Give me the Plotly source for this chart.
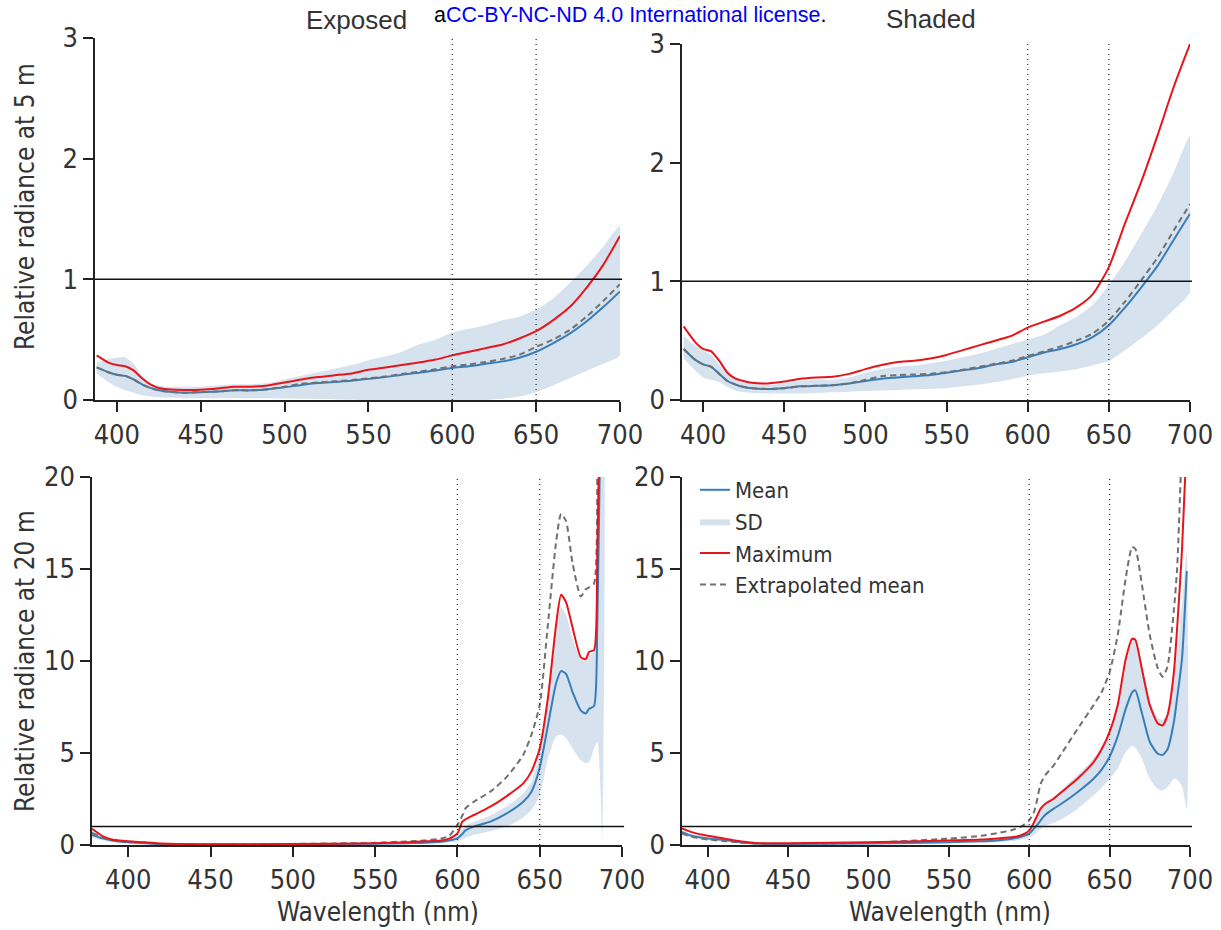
import plotly.graph_objects as go

# ---------------- data ----------------
# 5 m depth (top row)
wl_5m = [388, 395, 400, 405, 410, 415, 420, 425, 430, 440, 450, 460, 470, 480, 490,
         500, 510, 520, 530, 540, 550, 560, 570, 580, 590, 600, 610, 620, 630, 640,
         650, 660, 670, 680, 690, 700]

exposed_5m_mean = [0.27, 0.23, 0.21, 0.20, 0.17, 0.13, 0.10, 0.08, 0.07, 0.06, 0.065, 0.07, 0.08, 0.08, 0.09,
                   0.105, 0.125, 0.14, 0.15, 0.16, 0.175, 0.19, 0.21, 0.225, 0.245, 0.265, 0.28, 0.30, 0.32, 0.35,
                   0.40, 0.47, 0.55, 0.65, 0.77, 0.90]
exposed_5m_ext = [0.27, 0.23, 0.21, 0.20, 0.17, 0.13, 0.10, 0.08, 0.07, 0.06, 0.065, 0.07, 0.08, 0.08, 0.09,
                  0.11, 0.135, 0.145, 0.155, 0.165, 0.18, 0.195, 0.215, 0.235, 0.255, 0.28, 0.295, 0.315, 0.34, 0.375,
                  0.44, 0.50, 0.58, 0.69, 0.82, 0.96]
exposed_5m_max = [0.37, 0.31, 0.29, 0.28, 0.245, 0.18, 0.13, 0.10, 0.09, 0.083, 0.085, 0.095, 0.11, 0.11, 0.12,
                  0.145, 0.17, 0.19, 0.205, 0.22, 0.25, 0.27, 0.29, 0.31, 0.335, 0.37, 0.40, 0.43, 0.46, 0.51,
                  0.57, 0.66, 0.77, 0.93, 1.12, 1.36]
exposed_5m_sd_hi = [0.31, 0.34, 0.35, 0.355, 0.30, 0.20, 0.14, 0.12, 0.11, 0.11, 0.11, 0.12, 0.13, 0.13, 0.14,
                    0.17, 0.20, 0.23, 0.26, 0.29, 0.33, 0.36, 0.40, 0.46, 0.50, 0.56, 0.59, 0.62, 0.66, 0.69,
                    0.75, 0.84, 0.97, 1.11, 1.27, 1.44]
exposed_5m_sd_lo = [0.22, 0.15, 0.11, 0.08, 0.06, 0.04, 0.03, 0.02, 0.02, 0.015, 0.015, 0.015, 0.015, 0.015, 0.015,
                    0.012, 0.01, 0.008, 0.005, 0.003, 0.0, 0.0, 0.0, 0.0, 0.0, 0.0, 0.0, 0.0, 0.01, 0.03,
                    0.065, 0.12, 0.18, 0.24, 0.30, 0.37]

shaded_5m_mean = [0.43, 0.34, 0.30, 0.28, 0.22, 0.16, 0.13, 0.11, 0.10, 0.093, 0.10, 0.115, 0.12, 0.125, 0.14,
                  0.16, 0.18, 0.19, 0.20, 0.21, 0.23, 0.25, 0.27, 0.30, 0.32, 0.36, 0.40, 0.43, 0.47, 0.53,
                  0.63, 0.78, 0.95, 1.13, 1.35, 1.57]
shaded_5m_ext = [0.43, 0.34, 0.30, 0.28, 0.22, 0.16, 0.13, 0.11, 0.10, 0.093, 0.10, 0.115, 0.12, 0.125, 0.14,
                 0.17, 0.20, 0.21, 0.215, 0.22, 0.235, 0.255, 0.28, 0.305, 0.33, 0.37, 0.41, 0.45, 0.50, 0.56,
                 0.67, 0.83, 1.01, 1.20, 1.43, 1.65]
shaded_5m_max = [0.62, 0.49, 0.43, 0.41, 0.33, 0.23, 0.18, 0.16, 0.145, 0.14, 0.155, 0.18, 0.19, 0.195, 0.22,
                 0.26, 0.295, 0.32, 0.33, 0.35, 0.38, 0.42, 0.46, 0.50, 0.54, 0.61, 0.66, 0.71, 0.78, 0.89,
                 1.12, 1.49, 1.84, 2.23, 2.64, 3.0]
shaded_5m_sd_hi = [0.54, 0.46, 0.42, 0.38, 0.30, 0.23, 0.18, 0.155, 0.14, 0.13, 0.14, 0.16, 0.17, 0.17, 0.19,
                   0.23, 0.26, 0.28, 0.29, 0.31, 0.33, 0.36, 0.39, 0.43, 0.47, 0.51, 0.55, 0.63, 0.70, 0.80,
                   0.97, 1.17, 1.40, 1.64, 1.92, 2.22]
shaded_5m_sd_lo = [0.35, 0.25, 0.19, 0.17, 0.15, 0.11, 0.08, 0.065, 0.06, 0.055, 0.055, 0.055, 0.06, 0.065, 0.07,
                   0.075, 0.08, 0.085, 0.09, 0.095, 0.10, 0.115, 0.13, 0.15, 0.175, 0.205, 0.225, 0.24, 0.26, 0.29,
                   0.33, 0.42, 0.52, 0.63, 0.76, 0.91]

# 20 m depth, exposed (bottom left)
wl_20m_exposed = [378, 385, 390, 400, 410, 420, 430, 450, 500, 550, 570, 580, 590, 595, 600, 603, 605, 610,
                  620, 630, 640, 645, 650, 655, 660, 663, 666, 670, 675, 678, 680, 683, 685, 687, 688]
exposed_20m_mean = [0.55, 0.35, 0.25, 0.15, 0.10, 0.05, 0.04, 0.03, 0.04, 0.07, 0.10, 0.12, 0.18, 0.25, 0.36, 0.60, 0.80, 1.0,
                    1.27, 1.72, 2.35, 2.9, 4.2, 6.5, 8.8, 9.45, 9.3, 8.3, 7.3, 7.15, 7.4, 7.55, 12.0, 24.0, 30.0]
exposed_20m_max = [0.88, 0.45, 0.30, 0.20, 0.15, 0.08, 0.05, 0.04, 0.05, 0.10, 0.15, 0.20, 0.25, 0.35, 0.63, 1.27, 1.40, 1.63,
                   2.08, 2.66, 3.35, 4.0, 5.25, 8.0, 12.0, 13.6, 13.2, 11.8, 10.2, 10.1, 10.5, 10.6, 16.0, 26.0, 30.0]
exposed_20m_ext = [0.65, 0.40, 0.28, 0.18, 0.12, 0.06, 0.05, 0.04, 0.06, 0.12, 0.20, 0.25, 0.35, 0.50, 1.09, 1.6, 2.0, 2.35,
                   2.9, 3.7, 4.9, 6.0, 7.6, 12.0, 16.5, 18.0, 17.6, 15.3, 13.5, 13.9, 14.0, 14.2, 26.0, 30.0, 32.0]
exposed_20m_sd_hi = [0.70, 0.40, 0.30, 0.20, 0.12, 0.06, 0.05, 0.04, 0.05, 0.09, 0.13, 0.16, 0.22, 0.30, 0.50, 0.90, 1.05, 1.25,
                     1.6, 2.1, 2.8, 3.45, 5.1, 8.0, 11.8, 12.9, 12.5, 11.2, 10.1, 10.0, 10.3, 10.5, 14.0, 25.0, 25.0]
exposed_20m_sd_lo = [0.40, 0.25, 0.20, 0.10, 0.07, 0.03, 0.02, 0.02, 0.02, 0.05, 0.06, 0.08, 0.12, 0.15, 0.20, 0.30, 0.40, 0.55,
                     0.75, 1.0, 1.5, 1.9, 2.7, 4.7, 5.9, 6.0, 5.8, 5.25, 4.6, 4.45, 4.5, 5.25, 5.6, 2.9, 0.2]

# 20 m depth, shaded (bottom right)
wl_20m_shaded = [384, 390, 400, 410, 420, 430, 450, 500, 550, 570, 580, 590, 595, 600, 603, 605, 607, 610, 615,
                 620, 630, 640, 645, 650, 655, 660, 664, 666, 670, 675, 680, 683, 686, 690, 692, 695, 698]
shaded_20m_mean = [0.70, 0.50, 0.35, 0.28, 0.15, 0.08, 0.06, 0.08, 0.15, 0.20, 0.25, 0.35, 0.45, 0.62, 0.90, 1.10, 1.33, 1.64, 1.96,
                   2.24, 2.87, 3.6, 4.1, 4.8, 5.9, 7.4, 8.3, 8.4, 7.2, 5.6, 4.96, 4.9, 5.2, 6.7, 8.0, 10.1, 14.9]
shaded_20m_max = [0.90, 0.70, 0.50, 0.36, 0.20, 0.11, 0.09, 0.15, 0.25, 0.30, 0.36, 0.43, 0.53, 0.78, 1.24, 1.60, 1.96, 2.24, 2.5,
                  2.87, 3.6, 4.5, 5.2, 6.15, 7.6, 10.1, 11.2, 11.15, 9.6, 7.6, 6.6, 6.5, 7.05, 9.4, 11.8, 16.0, 22.0]
shaded_20m_ext = [0.63, 0.45, 0.30, 0.22, 0.13, 0.08, 0.07, 0.12, 0.35, 0.50, 0.64, 0.83, 1.0, 1.34, 1.8, 2.5, 3.3, 3.8, 4.3,
                  4.96, 6.3, 7.6, 8.3, 9.4, 11.4, 14.5, 16.2, 16.1, 14.2, 11.4, 9.6, 9.15, 9.7, 12.8, 15.05, 22.0, 30.0]
shaded_20m_sd_hi = [0.80, 0.60, 0.42, 0.32, 0.18, 0.10, 0.08, 0.12, 0.22, 0.28, 0.33, 0.45, 0.58, 0.80, 1.3, 1.6, 1.95, 2.3, 2.6,
                    3.0, 3.8, 4.7, 5.3, 6.1, 7.5, 9.7, 11.3, 11.3, 9.8, 7.8, 6.9, 6.8, 7.2, 9.0, 10.5, 13.0, 16.0]
shaded_20m_sd_lo = [0.55, 0.40, 0.25, 0.20, 0.10, 0.05, 0.04, 0.05, 0.10, 0.13, 0.16, 0.22, 0.30, 0.42, 0.55, 0.70, 0.85, 1.05, 1.2,
                    1.4, 1.96, 2.7, 3.1, 3.6, 4.15, 5.05, 5.4, 5.3, 4.7, 3.6, 3.05, 2.96, 3.15, 3.6, 3.55, 3.2, 1.96]

panel_titles = ["Exposed", "Shaded"]
row_titles = ["Relative radiance at 5 m", "Relative radiance at 20 m"]
x_title = "Wavelength (nm)"
series_names = ["Mean", "SD", "Maximum", "Extrapolated mean"]
x_ticks = [400, 450, 500, 550, 600, 650, 700]
y_ticks_5m = [0, 1, 2, 3]
y_ticks_20m = [0, 5, 10, 15, 20]
ref_wavelengths = [600, 650]
ref_level = 1

# ---------------- style ----------------
FONT = "DejaVu Sans Condensed, Liberation Sans Narrow, sans-serif"
ARIAL = "Liberation Sans, Arial, sans-serif"
TXT = "#333333"
C_MEAN = "rgb(55,125,186)"
C_MAX = "rgb(232,20,28)"
C_EXT = "rgb(112,112,112)"
C_SD = "rgb(214,227,239)"

W, H = 1221, 930

def px_x(a, b):
    return [a / W, b / W]
def px_y(top, bottom):
    return [1 - bottom / H, 1 - top / H]

panels = [
    ("", wl_5m, exposed_5m_mean, exposed_5m_ext, exposed_5m_max, exposed_5m_sd_hi, exposed_5m_sd_lo,
     px_x(95, 620), px_y(38, 400), [387, 700], [0, 3], y_ticks_5m),
    ("2", wl_5m, shaded_5m_mean, shaded_5m_ext, shaded_5m_max, shaded_5m_sd_hi, shaded_5m_sd_lo,
     px_x(682, 1190), px_y(44, 400), [387, 700], [0, 3], y_ticks_5m),
    ("3", wl_20m_exposed, exposed_20m_mean, exposed_20m_ext, exposed_20m_max, exposed_20m_sd_hi, exposed_20m_sd_lo,
     px_x(92, 622), px_y(477, 845), [378, 700], [0, 20], y_ticks_20m),
    ("4", wl_20m_shaded, shaded_20m_mean, shaded_20m_ext, shaded_20m_max, shaded_20m_sd_hi, shaded_20m_sd_lo,
     px_x(682, 1190), px_y(477, 845), [384, 700], [0, 20], y_ticks_20m),
]

fig = go.Figure()
layout = {}
shapes = []

for i, (sfx, wl, mean, ext, mx, hi, lo, xd, yd, xr, yr, yt) in enumerate(panels):
    xa, ya = "x" + sfx, "y" + sfx
    first = (i == 0)
    fig.add_trace(go.Scatter(
        x=list(wl) + list(wl)[::-1], y=list(hi) + list(lo)[::-1],
        fill="toself", fillcolor=C_SD, line=dict(width=0, shape="spline", smoothing=0.6),
        mode="lines", name=series_names[1], legendrank=2, showlegend=first,
        xaxis=xa, yaxis=ya, hoverinfo="skip"))
    fig.add_trace(go.Scatter(
        x=wl, y=mean, mode="lines", name=series_names[0], legendrank=1, showlegend=first,
        line=dict(color=C_MEAN, width=2, shape="spline", smoothing=0.6), xaxis=xa, yaxis=ya))
    fig.add_trace(go.Scatter(
        x=wl, y=ext, mode="lines", name=series_names[3], legendrank=4, showlegend=first,
        line=dict(color=C_EXT, width=2, dash="6px,4px", shape="spline", smoothing=0.6), xaxis=xa, yaxis=ya))
    fig.add_trace(go.Scatter(
        x=wl, y=mx, mode="lines", name=series_names[2], legendrank=3, showlegend=first,
        line=dict(color=C_MAX, width=2, shape="spline", smoothing=0.6), xaxis=xa, yaxis=ya))

    axis_common = dict(showline=True, linecolor="#222222", linewidth=1.5, ticks="outside",
                       ticklen=10, tickwidth=1.5, tickcolor="#222222", showgrid=False,
                       zeroline=False, automargin=False,
                       tickfont=dict(family=FONT, size=27, color=TXT))
    xkey = "xaxis" + sfx
    ykey = "yaxis" + sfx
    layout[xkey] = dict(axis_common, domain=xd, range=xr, tickvals=x_ticks, anchor=ya)
    layout[ykey] = dict(axis_common, domain=yd, range=yr, tickvals=yt, anchor=xa)

    xdom = xa + " domain" if sfx else "x domain"
    ydom = ya + " domain" if sfx else "y domain"
    for w in ref_wavelengths:
        shapes.append(dict(type="line", xref=xa, yref=ydom, x0=w, x1=w, y0=0, y1=1,
                           line=dict(color="#333333", width=1.3, dash="1px,4px"), layer="above"))
    shapes.append(dict(type="line", xref=xdom, yref=ya, x0=0, x1=1.004, y0=ref_level, y1=ref_level,
                       line=dict(color="#111111", width=1.5), layer="above"))

def ann(text, x, y, size, family=FONT, angle=0, color=TXT):
    return dict(text=text, x=x / W, y=1 - y / H, xref="paper", yref="paper",
                showarrow=False, font=dict(family=family, size=size, color=color), textangle=angle,
                xanchor="center", yanchor="middle")

annotations = [
    ann(panel_titles[0], 357, 20, 26, ARIAL),
    ann(panel_titles[1], 931, 19, 26, ARIAL),
    ann("a<span style='color:#0000ee'>CC-BY-NC-ND 4.0 International license</span>.",
        630, 15, 21.5, ARIAL, color="#000000"),
    ann(row_titles[0], 25, 207, 26, angle=-90),
    ann(row_titles[1], 25, 661, 26, angle=-90),
    ann(x_title, 378, 912, 26),
    ann(x_title, 950, 912, 26),
]

fig.update_layout(
    width=W, height=H, margin=dict(l=0, r=0, t=0, b=0, autoexpand=False),
    paper_bgcolor="white", plot_bgcolor="white",
    shapes=shapes, annotations=annotations,
    legend=dict(x=695 / W, y=1 - 469 / H, xanchor="left", yanchor="top",
                font=dict(family=FONT, size=22, color=TXT), bgcolor="rgba(0,0,0,0)",
                tracegroupgap=0, itemwidth=30, traceorder="normal"),
    **layout,
)

# remove the page's default body margin so the figure fills the window exactly
fig.write_html("out.html", config={"displayModeBar": False},
               post_script="document.body.style.margin='0px';")
